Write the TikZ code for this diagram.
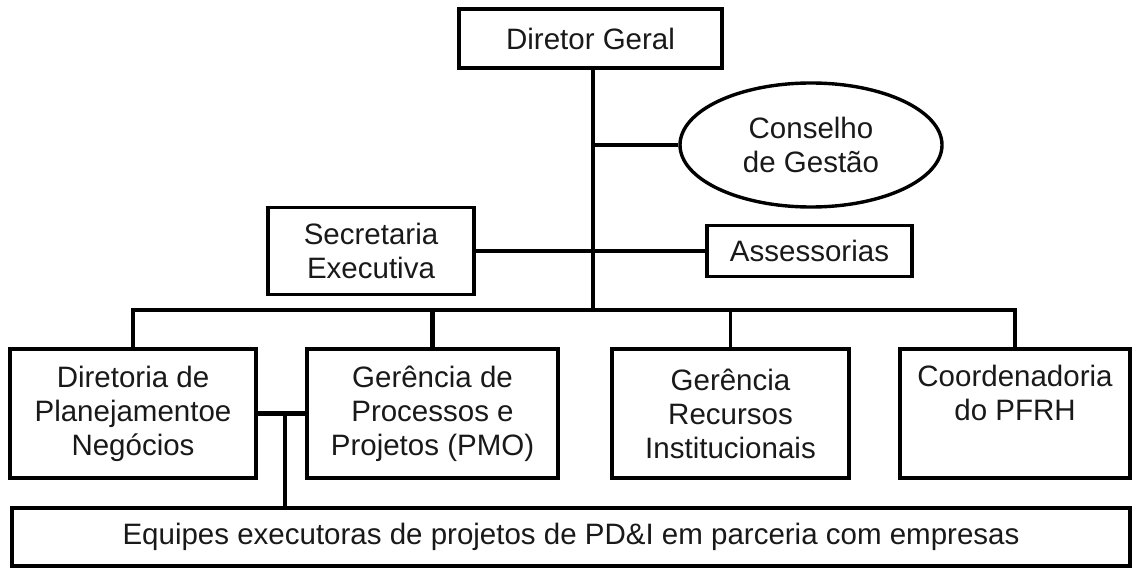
\documentclass[tikz,border=0pt]{standalone}
\usepackage{fontspec}
\setmainfont{Liberation Sans}
\usetikzlibrary{shapes.geometric}
\begin{document}
\begin{tikzpicture}[x=1pt,y=-1pt,
  lbl/.style={align=center, inner sep=0pt, text=black!90, font=\fontsize{29.5}{34}\selectfont},
  box/.style={lbl, draw=black, line width=3.6pt, rectangle},
  oval/.style={lbl, draw=black, line width=3.4pt, ellipse},
  link/.style={draw=black, line width=3.2pt},
  heavy/.style={draw=black, line width=4.8pt}]
\useasboundingbox (0,0) rectangle (1138,569);
% nodes
\node[box, minimum width=263pt, minimum height=59pt] (dg) at (590.5,38.5) {Diretor Geral};
\node[oval, minimum width=262pt, minimum height=124pt] (cg) at (811,145) {Conselho\\de Gestão};
\node[box, minimum width=206pt, minimum height=87pt] (se) at (371,251) {Secretaria\\Executiva};
\node[box, minimum width=205pt, minimum height=51pt] (as) at (809.5,251) {Assessorias};
\node[box, minimum width=246pt, minimum height=129pt] (dp) at (133,413.5) {Diretoria de\\Planejamentoe\\Negócios};
\node[box, minimum width=251pt, minimum height=129pt] (pm) at (432.5,413.5) {Gerência de\\Processos e\\Projetos (PMO)};
\node[box, minimum width=237pt, minimum height=129pt] (ri) at (730.5,413.5) {Gerência\\Recursos\\Institucionais};
\node[box, minimum width=230pt, minimum height=129pt] (co) at (1015,413.5) {Coordenadoria\\do PFRH\\[8pt]};
\node[box, minimum width=1118pt, minimum height=58pt] (eq) at (571,537) {Equipes executoras de projetos de PD\&I em parceria com empresas};
% helper coordinates
\coordinate (t) at (593,310);
\coordinate (j) at (285,413.5);
% connectors
\draw[link] (dg.south -| t) -- (t);
\draw[link] (t |- cg.west) -- (cg.west);
\draw[link] (se.east) -- (as.west);
\draw[link] (dp.north) -- (dp.north |- t) -- (co.north |- t) -- (co.north);
\draw[heavy] (pm.north |- t) -- (pm.north);
\draw[link] (ri.north |- t) -- (ri.north);
\draw[heavy] (dp.east) -- (pm.west);
\draw[link] (j) -- (j |- eq.north);
\end{tikzpicture}
\end{document}
